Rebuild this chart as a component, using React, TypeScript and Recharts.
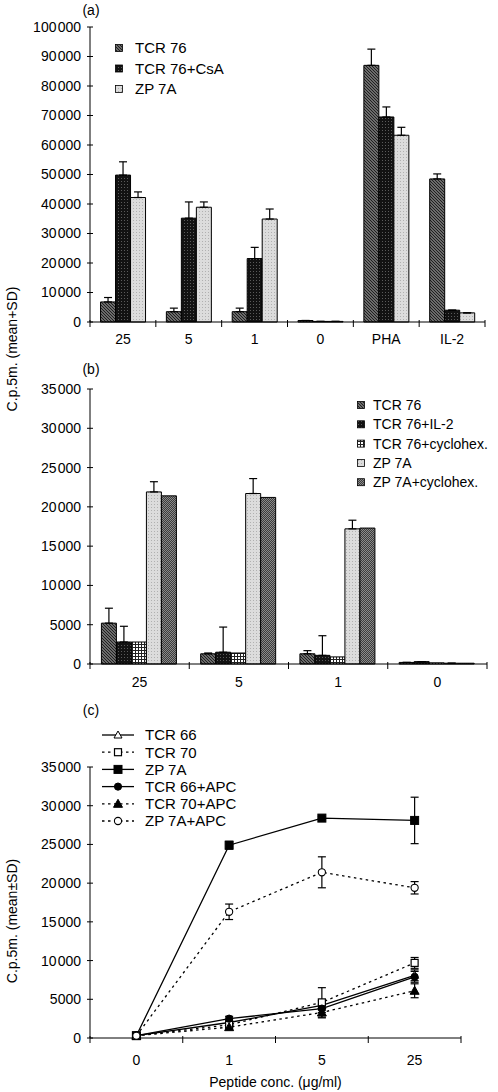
import React from 'react';
import { BarChart, Bar, XAxis, YAxis, ErrorBar, LineChart, Line } from 'recharts';

const FONT = '"Liberation Sans", Arial, Helvetica, sans-serif';

// ---------- Panel (a) ----------
const catsA = ['25', '5', '1', '0', 'PHA', 'IL-2'];
const aTcr76 = [6800, 3500, 3500, 500, 87000, 48500];
const aTcr76Sd = [1500, 1200, 1200, 0, 5500, 1700];
const aTcr76CsA = [49800, 35200, 21500, 200, 69500, 4000];
const aTcr76CsASd = [4500, 5500, 3800, 0, 3400, 0];
const aZp7A = [42200, 38900, 34900, 200, 63300, 3100];
const aZp7ASd = [1900, 1800, 3400, 0, 2700, 0];
const ticksA = [0, 10000, 20000, 30000, 40000, 50000, 60000, 70000, 80000, 90000, 100000];

// ---------- Panel (b) ----------
const catsB = ['25', '5', '1', '0'];
const bTcr76 = [5200, 1300, 1300, 200];
const bTcr76Sd = [1900, 100, 400, 0];
const bTcr76Il2 = [2800, 1500, 1100, 300];
const bTcr76Il2Sd = [2000, 3200, 2500, 0];
const bTcr76Cyc = [2800, 1400, 900, 150];
const bZp7A = [21900, 21700, 17200, 100];
const bZp7ASd = [1300, 1900, 1100, 0];
const bZp7ACyc = [21400, 21200, 17300, 100];
const ticksB = [0, 5000, 10000, 15000, 20000, 25000, 30000, 35000];

// ---------- Panel (c) ----------
const catsC = ['0', '1', '5', '25'];
const cTcr66 = [300, 2000, 4200, 8100];
const cTcr66Sd = [0, 300, 600, 700];
const cTcr70 = [300, 1700, 4600, 9700];
const cTcr70Sd = [0, 300, 1900, 700];
const cZp7A = [300, 24900, 28400, 28100];
const cZp7ASd = [0, 500, 200, 3000];
const cTcr66Apc = [300, 2500, 3800, 7900];
const cTcr66ApcSd = [0, 300, 500, 700];
const cTcr70Apc = [300, 1400, 3300, 6100];
const cTcr70ApcSd = [0, 300, 700, 900];
const cZp7AApc = [300, 16300, 21400, 19400];
const cZp7AApcSd = [0, 1000, 2000, 800];
const ticksC = [0, 5000, 10000, 15000, 20000, 25000, 30000, 35000];

const seriesA = [
  { name: 'TCR 76', values: aTcr76, sd: aTcr76Sd, fill: 'url(#pHatch)' },
  { name: 'TCR 76+CsA', values: aTcr76CsA, sd: aTcr76CsASd, fill: 'url(#pBlack)' },
  { name: 'ZP 7A', values: aZp7A, sd: aZp7ASd, fill: 'url(#pLight)' },
];
const seriesB = [
  { name: 'TCR 76', values: bTcr76, sd: bTcr76Sd, fill: 'url(#pHatch)' },
  { name: 'TCR 76+IL-2', values: bTcr76Il2, sd: bTcr76Il2Sd, fill: 'url(#pBlack)' },
  { name: 'TCR 76+cyclohex.', values: bTcr76Cyc, sd: null as number[] | null, fill: 'url(#pGrid)' },
  { name: 'ZP 7A', values: bZp7A, sd: bZp7ASd, fill: 'url(#pLight)' },
  { name: 'ZP 7A+cyclohex.', values: bZp7ACyc, sd: null as number[] | null, fill: 'url(#pMed)' },
];
const seriesC = [
  { name: 'TCR 66', values: cTcr66, sd: cTcr66Sd, dashed: false, marker: 'triOpen' },
  { name: 'TCR 70', values: cTcr70, sd: cTcr70Sd, dashed: true, marker: 'sqOpen' },
  { name: 'ZP 7A', values: cZp7A, sd: cZp7ASd, dashed: false, marker: 'sqFilled' },
  { name: 'TCR 66+APC', values: cTcr66Apc, sd: cTcr66ApcSd, dashed: false, marker: 'circFilled' },
  { name: 'TCR 70+APC', values: cTcr70Apc, sd: cTcr70ApcSd, dashed: true, marker: 'triFilled' },
  { name: 'ZP 7A+APC', values: cZp7AApc, sd: cZp7AApcSd, dashed: true, marker: 'circOpen' },
];

const dataA = catsA.map((c, i) => {
  const row: any = { cat: c };
  seriesA.forEach((s, k) => {
    row['v' + k] = s.values[i];
    row['e' + k] = [0, s.sd[i]];
  });
  return row;
});
const dataB = catsB.map((c, i) => {
  const row: any = { cat: c };
  seriesB.forEach((s, k) => {
    row['v' + k] = s.values[i];
    if (s.sd) row['e' + k] = [0, s.sd[i]];
  });
  return row;
});
const dataC = catsC.map((c, i) => {
  const row: any = { cat: c };
  seriesC.forEach((s, k) => {
    row['v' + k] = s.values[i];
    row['e' + k] = s.sd[i];
  });
  return row;
});

const fmt = (v: number) => {
  const s = String(v);
  if (s.length > 4) return s.slice(0, s.length - 3) + '\u200A' + s.slice(s.length - 3);
  return s;
};

const makeXTick = (last: string, labelDy: number) => (props: any) => {
  const { x, y, payload } = props;
  const off = payload && typeof payload.offset === 'number' ? payload.offset : 0;
  return (
    <g>
      <line x1={x - off} x2={x - off} y1={y - 2} y2={y + 5} stroke="#000" strokeWidth={1} />
      {payload.value === last && (
        <line x1={x + off} x2={x + off} y1={y - 2} y2={y + 5} stroke="#000" strokeWidth={1} />
      )}
      <text x={x} y={y + labelDy} dy="0.355em" textAnchor="middle" fontSize={14} fontFamily={FONT} fill="#000">
        {payload.value}
      </text>
    </g>
  );
};

const YTick = (props: any) => {
  const { x, y, payload } = props;
  return (
    <g>
      <line x1={x - 3} x2={x + 3} y1={y} y2={y} stroke="#000" strokeWidth={1} />
      <text x={x - 9} y={y} dy="0.355em" textAnchor="end" fontSize={14} fontFamily={FONT} fill="#000">
        {fmt(payload.value)}
      </text>
    </g>
  );
};

const drawMarker = (kind: string, cx: number, cy: number, key: string) => {
  if (cx == null || cy == null) return <g key={key} />;
  switch (kind) {
    case 'triOpen':
      return <polygon key={key} points={`${cx},${cy - 4} ${cx - 4},${cy + 3} ${cx + 4},${cy + 3}`} fill="#fff" stroke="#000" strokeWidth={1} />;
    case 'triFilled':
      return <polygon key={key} points={`${cx},${cy - 4.5} ${cx - 4.5},${cy + 3.5} ${cx + 4.5},${cy + 3.5}`} fill="#000" stroke="#000" strokeWidth={1} />;
    case 'sqOpen':
      return <rect key={key} x={cx - 3.5} y={cy - 3.5} width={7} height={7} fill="#fff" stroke="#000" strokeWidth={1.2} />;
    case 'sqFilled':
      return <rect key={key} x={cx - 4} y={cy - 4} width={8} height={8} fill="#000" stroke="#000" strokeWidth={1} />;
    case 'circFilled':
      return <circle key={key} cx={cx} cy={cy} r={3.6} fill="#000" stroke="#000" strokeWidth={1} />;
    default:
      return <circle key={key} cx={cx} cy={cy} r={3.6} fill="#fff" stroke="#000" strokeWidth={1.1} />;
  }
};

const XTickA = makeXTick(catsA[catsA.length - 1], 17);
const XTickB = makeXTick(catsB[catsB.length - 1], 18);
const XTickC = makeXTick(catsC[catsC.length - 1], 22);

export default function App() {
  return (
    <div style={{ position: 'absolute', left: 0, top: 0, width: 498, height: 1092, background: '#fff', fontFamily: FONT }}>
      <div style={{ position: 'absolute', left: 0, top: 0 }}>
        <BarChart width={498} height={350} data={dataA} margin={{ top: 27, right: 13, left: 0, bottom: 0 }}
          barGap={0} barCategoryGap="16%">
          <XAxis dataKey="cat" height={28} tickSize={0} tickMargin={0} tickLine={false} interval={0}
            tick={XTickA} axisLine={{ stroke: '#000', strokeWidth: 1 }} />
          <YAxis width={90} domain={[0, 100000]} ticks={ticksA} interval={0} tickSize={0} tickMargin={0}
            tickLine={false} tick={YTick} axisLine={{ stroke: '#000', strokeWidth: 1 }} />
          {seriesA.map((s, k) => (
            <Bar key={s.name} dataKey={'v' + k} name={s.name} fill={s.fill} stroke="#000" strokeWidth={1}
              isAnimationActive={false}>
              <ErrorBar dataKey={'e' + k} direction="y" width={4} stroke="#000" strokeWidth={1.2} />
            </Bar>
          ))}
        </BarChart>
      </div>

      <div style={{ position: 'absolute', left: 0, top: 350 }}>
        <BarChart width={498} height={342} data={dataB} margin={{ top: 39, right: 11, left: 0, bottom: 0 }}
          barGap={0} barCategoryGap="11.5%">
          <XAxis dataKey="cat" height={28} tickSize={0} tickMargin={0} tickLine={false} interval={0}
            tick={XTickB} axisLine={{ stroke: '#000', strokeWidth: 1 }} />
          <YAxis width={90} domain={[0, 35000]} ticks={ticksB} interval={0} tickSize={0} tickMargin={0}
            tickLine={false} tick={YTick} axisLine={{ stroke: '#000', strokeWidth: 1 }} />
          {seriesB.map((s, k) => (
            <Bar key={s.name} dataKey={'v' + k} name={s.name} fill={s.fill} stroke="#000" strokeWidth={1}
              isAnimationActive={false}>
              {s.sd && <ErrorBar dataKey={'e' + k} direction="y" width={4} stroke="#000" strokeWidth={1.2} />}
            </Bar>
          ))}
        </BarChart>
      </div>

      <div style={{ position: 'absolute', left: 0, top: 700 }}>
        <LineChart width={498} height={392} data={dataC} margin={{ top: 67, right: 37, left: 0, bottom: 0 }}>
          <XAxis dataKey="cat" scale="band" height={54} tickSize={0} tickMargin={0} tickLine={false} interval={0}
            tick={XTickC} axisLine={{ stroke: '#000', strokeWidth: 1 }}
            label={{ value: 'Peptide conc. (\u03bcg/ml)', position: 'insideBottom', offset: 5,
              style: { fontSize: 14, fontFamily: FONT, fill: '#000' } }} />
          <YAxis width={90} domain={[0, 35000]} ticks={ticksC} interval={0} tickSize={0} tickMargin={0}
            tickLine={false} tick={YTick} axisLine={{ stroke: '#000', strokeWidth: 1 }} />
          {seriesC.map((s, k) => (
            <Line key={s.name} dataKey={'v' + k} name={s.name} stroke="#000" strokeWidth={1.3}
              strokeDasharray={s.dashed ? '2.5 3.5' : undefined} isAnimationActive={false}
              dot={(p: any) => drawMarker(s.marker, p.cx, p.cy, s.name + '-' + p.index)}
              activeDot={false}>
              <ErrorBar dataKey={'e' + k} direction="y" width={4} stroke="#000" strokeWidth={1.2} />
            </Line>
          ))}
        </LineChart>
      </div>

      <svg width={498} height={1092} style={{ position: 'absolute', left: 0, top: 0, pointerEvents: 'none' }}
        fontFamily={FONT}>
        <defs>
          <pattern id="pHatch" patternUnits="userSpaceOnUse" width={3} height={3}>
            <rect width={3} height={3} fill="#8c8c8c" />
            <path d="M-1,2 L1,4 M0,0 L3,3 M2,-1 L4,1" stroke="#1a1a1a" strokeWidth={1.1} />
          </pattern>
          <pattern id="pBlack" patternUnits="userSpaceOnUse" width={3} height={3}>
            <rect width={3} height={3} fill="#121212" />
            <rect x={1} y={1} width={1} height={1} fill="#5a5a5a" />
          </pattern>
          <pattern id="pLight" patternUnits="userSpaceOnUse" width={3} height={3}>
            <rect width={3} height={3} fill="#dcdcdc" />
            <rect x={1} y={1} width={1} height={1} fill="#b0b0b0" />
          </pattern>
          <pattern id="pGrid" patternUnits="userSpaceOnUse" width={3} height={3}>
            <rect width={3} height={3} fill="#ffffff" />
            <path d="M0,0.5 H3 M0.5,0 V3" stroke="#222" strokeWidth={1} />
          </pattern>
          <pattern id="pMed" patternUnits="userSpaceOnUse" width={2} height={2}>
            <rect width={2} height={2} fill="#3c3c3c" />
            <rect x={0} y={0} width={1} height={1} fill="#8a8a8a" />
            <rect x={1} y={1} width={1} height={1} fill="#8a8a8a" />
          </pattern>
        </defs>

        {/* panel labels */}
        <text x={91} y={10} dy="0.355em" textAnchor="middle" fontSize={14} fill="#000">(a)</text>
        <text x={91} y={369} dy="0.355em" textAnchor="middle" fontSize={14} fill="#000">(b)</text>
        <text x={91} y={710} dy="0.355em" textAnchor="middle" fontSize={14} fill="#000">(c)</text>

        {/* y axis titles */}
        <text transform="translate(12,349) rotate(-90)" dy="0.355em" textAnchor="middle" fontSize={14} fill="#000">
          C.p.5m. (mean+SD)
        </text>
        <text transform="translate(12,921) rotate(-90)" dy="0.355em" textAnchor="middle" fontSize={14} fill="#000">
          C.p.5m. (mean±SD)
        </text>

        {/* legend (a) */}
        {seriesA.map((s, i) => (
          <g key={'la' + i}>
            <rect x={115.5} y={44.5 + i * 20.5} width={7} height={7} fill={s.fill} stroke="#000" strokeWidth={0.8} />
            <text x={135} y={48 + i * 20.5} dy="0.355em" fontSize={15} fill="#000">{s.name}</text>
          </g>
        ))}

        {/* legend (b) */}
        {seriesB.map((s, i) => (
          <g key={'lb' + i}>
            <rect x={357.5} y={401.5 + i * 19.3} width={7} height={7} fill={s.fill} stroke="#000" strokeWidth={0.8} />
            <text x={373} y={405 + i * 19.3} dy="0.355em" fontSize={14} fill="#000">{s.name}</text>
          </g>
        ))}

        {/* legend (c) */}
        {seriesC.map((s, i) => {
          const yy = 735 + i * 17.2;
          return (
            <g key={'lc' + i}>
              <line x1={102} x2={134} y1={yy} y2={yy} stroke="#000" strokeWidth={1.3}
                strokeDasharray={s.dashed ? '2.5 3.5' : undefined} />
              {drawMarker(s.marker, 118, yy, 'lm' + i)}
              <text x={145} y={yy} dy="0.355em" fontSize={15} fill="#000">{s.name}</text>
            </g>
          );
        })}
      </svg>
    </div>
  );
}
